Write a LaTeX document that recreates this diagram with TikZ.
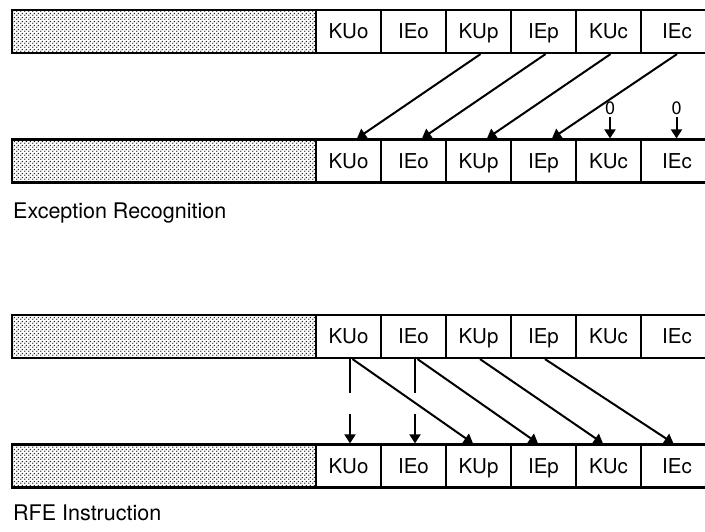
\documentclass[tikz,border=0pt]{standalone}
\usepackage{fontspec}
\setmainfont{TeX Gyre Heros}
\usetikzlibrary{arrows.meta,patterns,calc}
\pgfdeclarepatternformonly{scandots}{\pgfqpoint{0pt}{0pt}}{\pgfqpoint{4pt}{4pt}}{\pgfqpoint{4pt}{4pt}}{%
  \pgfpathcircle{\pgfqpoint{1pt}{1pt}}{0.9pt}%
  \pgfpathcircle{\pgfqpoint{3pt}{3pt}}{0.9pt}%
  \pgfusepath{fill}}
\begin{document}
\begin{tikzpicture}[x=1pt,y=1pt,
  cell/.style={draw,line width=2.2pt,minimum width=65pt,minimum height=43pt,inner sep=0pt,
    text height=14.3pt,text depth=0pt,font=\fontsize{20.5}{24}\selectfont,fill=white},
  lastcell/.style={cell,minimum width=72pt,xshift=3.5pt},
  graybox/.style={draw,line width=2.6pt,minimum width=304pt,minimum height=43pt,inner sep=0pt,
    pattern=scandots,pattern color=black!85},
  conn/.style={line width=2pt,-{Triangle[length=9pt,width=11pt]}},
  zero/.style={inner sep=2.5pt,font=\fontsize{18}{20}\selectfont},
  caption/.style={anchor=base west,inner sep=0pt,font=\fontsize{21.5}{24}\selectfont}]
\useasboundingbox (0,0) rectangle (705,-532);
% rows: centers
\foreach \r/\y in {a/-31.5,b/-161,c/-336.5,d/-466}{
  \node[graybox] (\r0) at (164,\y) {};
  \node[cell] (\r1) at (348.5,\y) {KUo};
  \node[cell] (\r2) at (413.5,\y) {IEo};
  \node[cell] (\r3) at (478.5,\y) {KUp};
  \node[cell] (\r4) at (543.5,\y) {IEp};
  \node[cell] (\r5) at (608.5,\y) {KUc};
  \node[lastcell] (\r6) at (673.5,\y) {IEc};
}
% Exception recognition arrows
\draw[conn] ($(a3.south)+(2,0)$) -- ($(b1.north)+(8.5,0)$);
\draw[conn] ($(a4.south)+(2,0)$) -- ($(b2.north)+(8.5,0)$);
\draw[conn] ($(a5.south)+(2,0)$) -- ($(b3.north)+(8.5,0)$);
\draw[conn] ($(a6.south)+(0,0)$) -- ($(b4.north)+(8.5,0)$);
\node[zero] (z5) at (610,-108) {0};
\node[zero] (z6) at (676.5,-108) {0};
\draw[conn] (z5.south) -- (z5.south |- b5.north);
\draw[conn] (z6.south) -- (z6.south |- b6.north);
\node[caption] (cap1) at (13,-219) {Exception Recognition};
% RFE arrows
\draw[conn,dash pattern=on 34pt off 21pt] ($(c1.south)+(1.5,0)$) -- ($(d1.north)+(1.5,0)$);
\draw[conn,dash pattern=on 34pt off 21pt] ($(c2.south)+(1.5,0)$) -- ($(d2.north)+(1.5,0)$);
\draw[conn] ($(c1.south)+(4,0)$) -- ($(d3.north)+(-5.5,0)$);
\draw[conn] ($(c2.south)+(4,0)$) -- ($(d4.north)+(-5.5,0)$);
\draw[conn] ($(c3.south)+(1.5,0)$) -- ($(d5.north)+(-5.5,0)$);
\draw[conn] ($(c4.south)+(1.5,0)$) -- ($(d6.north)+(-3.5,0)$);
\node[caption] (cap2) at (13,-520) {RFE Instruction};
\end{tikzpicture}
\end{document}
